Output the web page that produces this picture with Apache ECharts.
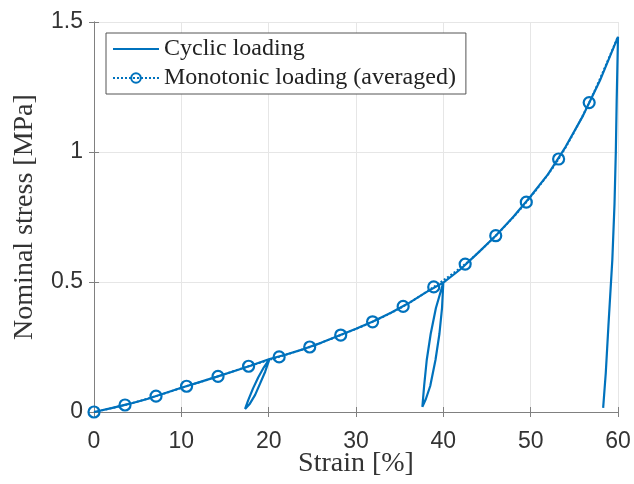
<!DOCTYPE html>
<html>
<head>
<meta charset="utf-8">
<script src="https://cdn.jsdelivr.net/npm/echarts@6/dist/echarts.min.js"></script>
<style>
html, body { margin: 0; padding: 0; background: #fff; }
#chart { width: 634px; height: 484px; }
</style>
</head>
<body>
<div id="chart"></div>
<script>
// monotonic loading (averaged), marker points + end point
const monoStrain = [0, 3.55, 7.1, 10.6, 14.2, 17.7, 21.2, 24.7, 28.25, 31.9, 35.4, 38.9, 42.5, 46.0, 49.5, 53.2, 56.7, 60];
const monoStress = [0, 0.027, 0.061, 0.099, 0.137, 0.176, 0.212, 0.25, 0.296, 0.347, 0.406, 0.481, 0.569, 0.678, 0.807, 0.973, 1.19, 1.445];

// cyclic loading: load, unload/reload at 20 and 40, load to 60, unload
const cycStrain = [0, 2, 4, 6, 8, 10, 12, 14, 16, 18, 20.1,
    19.6, 19.0, 18.45, 17.85, 17.3,
    17.65, 18.2, 18.8, 19.45, 20.1,
    22, 24, 26, 28, 30, 32, 34, 36, 38, 40.0,
    39.85, 39.55, 39.1, 38.5, 38.0, 37.6,
    37.8, 38.1, 38.55, 39.15, 40.0,
    42, 44, 46, 48, 50, 52, 54, 56, 58, 60,
    59.85, 59.75, 59.6, 59.35, 58.9, 58.6, 58.3];
const cycStress = [0, 0.015, 0.031, 0.049, 0.071, 0.093, 0.114, 0.135, 0.157, 0.179, 0.204,
    0.155, 0.108, 0.066, 0.032, 0.012,
    0.045, 0.09, 0.133, 0.172, 0.204,
    0.221, 0.242, 0.266, 0.293, 0.32, 0.349, 0.382, 0.418, 0.46, 0.498,
    0.4, 0.3, 0.2, 0.1, 0.05, 0.02,
    0.1, 0.2, 0.3, 0.4, 0.498,
    0.55, 0.613, 0.678, 0.75, 0.83, 0.915, 1.02, 1.14, 1.28, 1.443,
    1.2, 1.0, 0.8, 0.585, 0.33, 0.15, 0.016];

const xTicks = [0, 10, 20, 30, 40, 50, 60];
const yTicks = [0, 0.5, 1, 1.5];

const blue = '#0072BD';
const axisGray = '#808080';
const gridGray = '#e6e6e6';

const cycData = cycStrain.map((x, i) => [x, cycStress[i]]);
const monoData = monoStrain.map((x, i) => {
    if (i === monoStrain.length - 1) return { value: [x, monoStress[i]], symbol: 'none' };
    return [x, monoStress[i]];
});

const tickInside = { show: true, inside: true, length: 5, lineStyle: { color: axisGray } };
const axisLine = { show: true, lineStyle: { color: axisGray, width: 1 } };

// plain line icon for the cyclic legend entry (corner dots fix the box size)
const lineIcon = 'path://M0,0h0.01v0.01h-0.01z M0,5.1H46V6.9H0z M46,12h-0.01v-0.01h0.01z';

const myChart = echarts.init(document.getElementById('chart'));
myChart.setOption({
    animation: false,
    grid: { left: 94, right: 16, top: 22, bottom: 72, containLabel: false, outerBoundsMode: 'none' },
    legend: {
        orient: 'vertical',
        left: 106,
        top: 33,
        padding: [4, 10, 4, 6],
        itemGap: 5,
        itemWidth: 46,
        itemHeight: 12,
        backgroundColor: '#fff',
        borderColor: '#555',
        borderWidth: 1,
        textStyle: { fontFamily: 'Liberation Serif', fontSize: 24, color: '#222' },
        data: [
            { name: 'Cyclic loading', icon: lineIcon },
            { name: 'Monotonic loading (averaged)' }
        ]
    },
    xAxis: [{
        type: 'value',
        min: 0, max: 60, interval: 10,
        name: 'Strain [%]',
        nameLocation: 'middle',
        nameGap: 38,
        nameMoveOverlap: false,
        nameTextStyle: { fontFamily: 'Liberation Serif', fontSize: 28, color: '#333' },
        axisLine: axisLine,
        axisTick: tickInside,
        axisLabel: {
            fontFamily: 'Liberation Sans', fontSize: 23, color: '#333', margin: 18,
            alignMinLabel: 'center', alignMaxLabel: 'center',
            formatter: v => xTicks.includes(v) ? String(v) : ''
        },
        splitLine: { show: true, lineStyle: { color: gridGray } }
    }, {
        type: 'value', position: 'top',
        min: 0, max: 60, interval: 10,
        axisLine: axisLine, axisTick: tickInside,
        axisLabel: { show: false }, splitLine: { show: false }
    }],
    yAxis: [{
        type: 'value',
        min: 0, max: 1.5, interval: 0.5,
        name: 'Nominal stress [MPa]',
        nameLocation: 'middle',
        nameGap: 55,
        nameMoveOverlap: false,
        nameTextStyle: { fontFamily: 'Liberation Serif', fontSize: 28, color: '#333' },
        axisLine: axisLine,
        axisTick: tickInside,
        axisLabel: {
            fontFamily: 'Liberation Sans', fontSize: 23, color: '#333', margin: 11,
            verticalAlignMinLabel: 'middle', verticalAlignMaxLabel: 'middle',
            formatter: v => yTicks.includes(v) ? String(v) : ''
        },
        splitLine: { show: true, lineStyle: { color: gridGray } }
    }, {
        type: 'value', position: 'right',
        min: 0, max: 1.5, interval: 0.5,
        axisLine: axisLine, axisTick: tickInside,
        axisLabel: { show: false }, splitLine: { show: false }
    }],
    series: [{
        name: 'Cyclic loading',
        type: 'line',
        data: cycData,
        showSymbol: false,
        symbol: 'none',
        lineStyle: { color: blue, width: 2.2 },
        itemStyle: { color: blue },
        z: 3
    }, {
        name: 'Monotonic loading (averaged)',
        type: 'line',
        data: monoData,
        smooth: 0.3,
        symbol: 'circle',
        symbolSize: 11,
        lineStyle: { color: blue, width: 2, type: [2, 2] },
        itemStyle: { color: 'rgba(255,255,255,0)', borderColor: blue, borderWidth: 2.2 },
        z: 4
    }]
});
</script>
</body>
</html>
